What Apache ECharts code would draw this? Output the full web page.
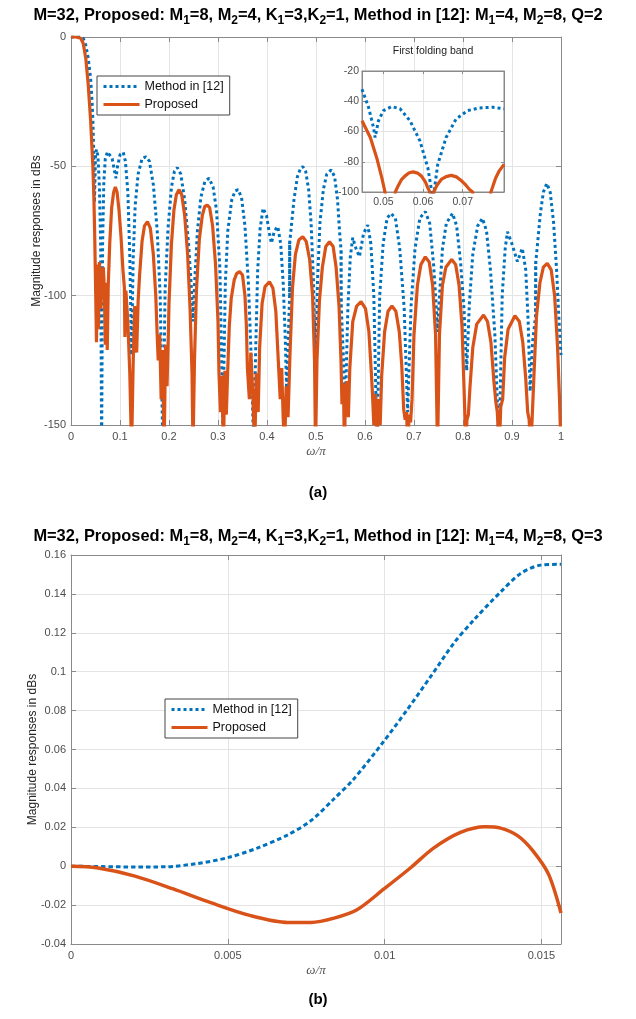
<!DOCTYPE html>
<html><head><meta charset="utf-8">
<script src="https://cdn.jsdelivr.net/npm/echarts@6/dist/echarts.min.js"></script>
<style>html,body{margin:0;padding:0;background:#fff}#c{width:636px;height:1019px}</style>
</head><body><div id="c"></div>
<script>
// ---------- Data ----------
// (a) full band, x = omega/pi, y = magnitude in dB (values below -150 are clipped)
const methodA = [
 [0,0],[0.01,0],[0.02,0],[0.025,-0.5],[0.03,-3],[0.035,-8],[0.04,-16],[0.043,-25],[0.0446,-32],[0.0463,-44],[0.0479,-64],[0.05,-46],[0.052,-43.5],[0.055,-46],[0.058,-58],[0.0605,-80],[0.0625,-160],[0.0645,-80],[0.067,-56],[0.07,-47],[0.0745,-44.4],[0.078,-44],
 [0.084,-47],[0.089,-52],[0.0917,-54.6],[0.095,-50],[0.1,-45.5],[0.1066,-44.6],[0.111,-48],[0.116,-60],[0.12,-85],[0.1236,-123],[0.127,-85],[0.131,-65],[0.137,-53],[0.145,-47],[0.1527,-46.3],[0.16,-48],[0.168,-57],[0.176,-75],[0.182,-100],[0.1875,-160],
 [0.192,-98],[0.198,-74],[0.205,-58],[0.211,-52],[0.217,-50.5],[0.224,-53],[0.232,-63],[0.24,-80],[0.246,-98],[0.249,-110],[0.252,-96],[0.258,-75],[0.265,-62],[0.273,-56],[0.2817,-54.6],[0.29,-58],[0.297,-67],[0.304,-90],[0.31,-150],
 [0.315,-95],[0.32,-75],[0.328,-63],[0.335,-59.5],[0.341,-59],[0.348,-62],[0.355,-73],[0.362,-95],[0.368,-125],[0.373,-160],[0.377,-120],[0.381,-90],[0.386,-74],[0.392,-66.2],[0.399,-69],[0.405,-76],[0.409,-79.7],[0.415,-75],[0.422,-73.3],[0.428,-80],[0.433,-95],[0.437,-115],[0.44,-136],
 [0.446,-101],[0.4462,-79],[0.4464,-101],[0.4466,-79],[0.455,-63],[0.462,-54],[0.468,-51],[0.473,-50.1],[0.479,-52],[0.485,-59],[0.49,-72],[0.495,-95],[0.499,-128],[0.503,-95],[0.508,-72],[0.515,-59],[0.522,-53],[0.531,-51.4],[0.538,-54],[0.544,-63],[0.548,-75],
 [0.551,-82],[0.5512,-104],[0.5514,-82],[0.5516,-104],[0.555,-120],[0.56,-142],[0.565,-105],[0.57,-85],[0.575,-77.6],[0.582,-82],[0.5886,-84.9],[0.597,-76],[0.6056,-72.7],[0.612,-80],[0.618,-100],[0.6246,-160],[0.63,-100],[0.637,-80],[0.645,-70],[0.653,-68.2],[0.662,-70],[0.671,-82],[0.68,-105],[0.687,-145],
 [0.694,-104],[0.702,-82],[0.712,-70],[0.723,-67.5],[0.732,-72],[0.74,-88],[0.745,-103],[0.748,-114],[0.752,-100],[0.758,-82],[0.766,-72],[0.7787,-68.2],[0.787,-73],[0.795,-87],[0.802,-105],[0.8075,-129],[0.813,-103],[0.82,-84],[0.83,-73],[0.8397,-70.1],[0.848,-75],[0.856,-90],[0.865,-115],[0.8737,-160],
 [0.88,-100],[0.886,-82],[0.8907,-75.3],[0.9,-80],[0.911,-86.8],[0.921,-81.7],[0.928,-90],[0.933,-110],[0.937,-137],[0.942,-118],[0.948,-108],[0.9482,-87],[0.9484,-108],[0.9486,-87],[0.958,-68],[0.964,-60],[0.971,-56.6],[0.978,-60],[0.985,-72],[0.991,-90],[0.996,-110],[1.0,-123]
];
const proposedA = [
 [0,0],[0.01,0],[0.02,-0.5],[0.025,-2.5],[0.03,-8],[0.035,-18],[0.04,-32],[0.0446,-50],[0.0467,-62],[0.0483,-76],[0.0496,-90],
 [0.052,-118],[0.054,-88],[0.056,-113],[0.058,-87],[0.061,-105],[0.063,-92],[0.066,-89],[0.068,-97],[0.07,-119],[0.072,-95],[0.074,-121],[0.076,-96],
 [0.079,-80],[0.083,-66],[0.087,-60],[0.0905,-58],[0.094,-60],[0.098,-67],[0.102,-77],[0.106,-90],[0.109,-97],[0.11,-116],[0.112,-98],[0.116,-110],[0.12,-130],[0.1236,-160],[0.127,-125],[0.13,-104],[0.134,-122],[0.137,-102],[0.14,-92],
 [0.145,-79],[0.15,-73],[0.156,-71.4],[0.162,-74],[0.168,-84],[0.173,-100],[0.176,-116],[0.178,-125],[0.181,-115],[0.184,-140],[0.187,-121],[0.19,-160],[0.193,-119],[0.196,-135],[0.199,-112],[0.2,-103],
 [0.205,-80],[0.21,-67],[0.215,-61],[0.2206,-59],[0.226,-61],[0.232,-69],[0.238,-84],[0.243,-105],[0.247,-130],[0.249,-160],[0.252,-125],[0.256,-98],[0.262,-78],[0.268,-69],[0.273,-65.5],[0.278,-65],[0.283,-66],[0.289,-73],[0.295,-88],
 [0.3,-110],[0.302,-130],[0.305,-145],[0.308,-131],[0.311,-160],[0.314,-129],[0.317,-146],[0.32,-128],[0.323,-112],[0.327,-101],[0.333,-94],[0.338,-91.5],[0.344,-90.7],[0.35,-92],[0.355,-100],[0.358,-112],[0.36,-128],[0.364,-140],[0.367,-122],[0.371,-138],[0.375,-160],
 [0.378,-130],[0.382,-145],[0.385,-120],[0.39,-103],[0.396,-96.5],[0.405,-94.6],[0.412,-97],[0.418,-106],[0.423,-125],[0.427,-140],[0.43,-128],[0.433,-147],[0.436,-160],[0.439,-135],[0.443,-147],[0.447,-122],[0.452,-97],[0.458,-84],[0.465,-78.5],[0.473,-77.2],
 [0.48,-79],[0.487,-86],[0.493,-100],[0.497,-125],[0.499,-160],[0.502,-125],[0.507,-102],[0.513,-89],[0.52,-81],[0.5275,-79.2],[0.535,-81],[0.541,-89],[0.547,-104],[0.551,-125],[0.553,-142],[0.556,-134],[0.558,-160],[0.56,-140],[0.563,-133],[0.566,-147],[0.569,-128],
 [0.575,-110],[0.583,-104],[0.592,-102.3],[0.601,-105],[0.608,-114],[0.613,-130],[0.615,-137],[0.618,-150],[0.621,-138],[0.6246,-160],[0.628,-140],[0.631,-150],[0.634,-131],[0.64,-114],[0.647,-106],[0.655,-104],[0.663,-106],[0.67,-114],[0.675,-127],
 [0.679,-144],[0.682,-148],[0.685,-145],[0.687,-160],[0.69,-146],[0.693,-149],[0.696,-140],[0.7,-115],[0.707,-96],[0.714,-88],[0.723,-85],[0.731,-87],[0.738,-96],[0.744,-115],[0.748,-160],[0.752,-115],[0.758,-96],[0.765,-89],[0.777,-86],[0.785,-88],[0.792,-96],
 [0.798,-112],[0.802,-135],[0.804,-147],[0.806,-160],[0.808,-148],[0.811,-146],[0.814,-136],[0.82,-120],[0.828,-111],[0.842,-107.5],[0.85,-110],[0.857,-118],[0.863,-133],[0.867,-141],[0.87,-145],[0.874,-160],[0.877,-143],[0.881,-140],[0.885,-124],[0.892,-113],
 [0.906,-107.8],[0.915,-110],[0.922,-118],[0.928,-132],[0.932,-145],[0.935,-148],[0.938,-160],[0.941,-148],[0.945,-130],[0.95,-108],[0.957,-95],[0.964,-89],[0.972,-87.5],[0.98,-90],[0.987,-100],[0.993,-120],[0.997,-140],[1.0,-160]
];
// (a) inset: first folding band
const methodInset = [
 [0.0446,-32],[0.04485,-32.9],[0.04625,-44],[0.0475,-57.3],[0.0479,-64],[0.04875,-52.9],[0.05,-46.2],[0.0521,-43.5],[0.0542,-45],[0.0567,-52.9],[0.0592,-66.2],[0.0612,-84],[0.0625,-105],
 [0.0637,-81.7],[0.0658,-64],[0.0683,-51.8],[0.0712,-46.2],[0.0742,-44.4],[0.0775,-44],[0.0804,-45]
];
const proposedInset = [
 [0.0446,-52.9],[0.0467,-64],[0.0483,-77.3],[0.0496,-90.7],[0.0504,-100],[0.0512,-125],[0.0522,-125],[0.053,-100],[0.0537,-96],[0.0545,-92],[0.0554,-89.5],[0.0565,-87.3],[0.0575,-86.7],[0.0586,-87.5],[0.0596,-89.5],[0.0606,-93.5],[0.0612,-97.3],[0.0617,-100],
 [0.0622,-115],[0.0627,-100],[0.0635,-95.5],[0.0646,-91.7],[0.0658,-89.8],[0.0671,-89],[0.0684,-90],[0.0696,-92.4],[0.0708,-95.5],[0.0717,-98.4],[0.0725,-100],[0.0735,-125],[0.076,-125],[0.0771,-100],[0.0783,-90.7],[0.0792,-86],[0.0804,-81.7]
];
// (b) passband detail
const methodB = [
 [0,0],[0.001,-0.0002],[0.00204,-0.0004],[0.00301,-0.0003],[0.004,0.0013],[0.005,0.0044],[0.00594,0.0093],[0.0069,0.016],[0.00765,0.0234],[0.00839,0.0347],[0.009,0.0445],
 [0.00996,0.0639],[0.01071,0.0802],[0.01146,0.0973],[0.0122,0.1145],[0.01284,0.1265],[0.0137,0.141],[0.01434,0.1505],[0.01498,0.1548],[0.015625,0.1552]
];
const proposedB = [
 [0,0],[0.00082,-0.0008],[0.00204,-0.0051],[0.00326,-0.0117],[0.00448,-0.0189],[0.0057,-0.0253],[0.00692,-0.0289],[0.00765,-0.0289],[0.00839,-0.0267],[0.00912,-0.0224],
 [0.00998,-0.0117],[0.01083,-0.0008],[0.01156,0.0093],[0.01242,0.0174],[0.01321,0.0203],[0.0137,0.0196],[0.01425,0.0156],[0.01473,0.0079],[0.01523,-0.0042],[0.015625,-0.0241]
];
const seriesNames = ['Method in [12]', 'Proposed'];
const insetTicks = [0.05, 0.06, 0.07];
const titleA = '{n|M=32, Proposed: M}{s|1}{n|=8, M}{s|2}{n|=4, K}{s|1}{n|=3,K}{s|2}{n|=1, Method in [12]: M}{s|1}{n|=4, M}{s|2}{n|=8, Q=2}';
const titleB = '{n|M=32, Proposed: M}{s|1}{n|=8, M}{s|2}{n|=4, K}{s|1}{n|=3,K}{s|2}{n|=1, Method in [12]: M}{s|1}{n|=4, M}{s|2}{n|=8, Q=3}';
const yName = 'Magnitude responses in dBs';
const xName = 'ω/π';

// ---------- Styling ----------
const BLUE = '#0072BD', ORANGE = '#D95319';
const AX = '#8a8a8a', GRIDC = '#e4e4e4', LBL = '#4d4d4d';
const FONT = 'Liberation Sans, Arial, sans-serif';
const titleRich = {
  n: {fontSize: 16.4, fontWeight: 'bold', fontFamily: FONT, color: '#000', lineHeight: 20},
  s: {fontSize: 12, fontWeight: 'bold', fontFamily: FONT, color: '#000', lineHeight: 12, padding: [11, 0, 0, 0]}
};

function xAx(o) {
  return Object.assign({
    type: 'value', position: 'bottom',
    axisLine: {show: true, onZero: false, lineStyle: {color: AX, width: 1}},
    axisTick: {show: true, inside: true, length: 5, lineStyle: {color: AX}},
    axisLabel: {show: true, color: LBL, fontSize: 11, fontFamily: FONT, margin: 6},
    splitLine: {show: true, lineStyle: {color: GRIDC, width: 1}}
  }, o);
}
function yAx(o) {
  return Object.assign({
    type: 'value', position: 'left',
    axisLine: {show: true, onZero: false, lineStyle: {color: AX, width: 1}},
    axisTick: {show: true, inside: true, length: 5, lineStyle: {color: AX}},
    axisLabel: {show: true, color: LBL, fontSize: 11, fontFamily: FONT, margin: 5},
    splitLine: {show: true, lineStyle: {color: GRIDC, width: 1}}
  }, o);
}
const noLbl = {show: false};
const noSplit = {show: false};
const xNameStyle = {fontFamily: 'Liberation Serif, serif', fontStyle: 'italic', fontSize: 13, color: '#555'};
const yNameStyle = {fontFamily: FONT, fontSize: 12, color: '#262626'};
const legendCommon = {
  orient: 'vertical', itemWidth: 36, itemHeight: 12, itemGap: 5, padding: [4, 6, 4, 5],
  backgroundColor: '#fff', borderColor: '#444', borderWidth: 1, selectedMode: false, z: 10,
  itemStyle: {opacity: 0, borderWidth: 0},
  lineStyle: {width: 3},
  textStyle: {fontSize: 12.5, color: '#111', fontFamily: FONT}
};

const chart = echarts.init(document.getElementById('c'), null, {renderer: 'canvas'});
chart.setOption({
  animation: false,
  backgroundColor: '#fff',
  title: [
    {text: titleA, left: 'center', top: 5, padding: 0, textStyle: {rich: titleRich}},
    {text: titleB, left: 'center', top: 526, padding: 0, textStyle: {rich: titleRich}},
    {text: '(a)', left: 'center', top: 485, padding: 0, textStyle: {fontSize: 15, fontWeight: 'bold', fontFamily: FONT, color: '#000'}},
    {text: '(b)', left: 'center', top: 992, padding: 0, textStyle: {fontSize: 15, fontWeight: 'bold', fontFamily: FONT, color: '#000'}}
  ],
  graphic: [
    {type: 'text', x: 433, y: 51, z: 20, style: {text: 'First folding band', fontSize: 10.5, fontFamily: FONT, fill: '#222', textAlign: 'center', textVerticalAlign: 'middle'}}
  ],
  legend: [
    Object.assign({data: seriesNames, left: 97, top: 76}, legendCommon),
    Object.assign({data: seriesNames, left: 165, top: 699}, legendCommon)
  ],
  grid: [
    {left: 71, top: 37, width: 490, height: 388, containLabel: false},
    {left: 362, top: 71, width: 142, height: 121, show: true, backgroundColor: '#fff', borderColor: AX, borderWidth: 1, z: 3},
    {left: 71, top: 555, width: 490, height: 389, containLabel: false}
  ],
  xAxis: [
    xAx({gridIndex: 0, min: 0, max: 1, interval: 0.1, name: xName, nameLocation: 'middle', nameGap: 20, nameMoveOverlap: false, nameTextStyle: xNameStyle}),
    xAx({gridIndex: 0, position: 'top', min: 0, max: 1, interval: 0.1, axisLabel: noLbl, splitLine: noSplit}),
    xAx({gridIndex: 1, min: 0.0446, max: 0.0804, z: 4,
         axisTick: {show: true, inside: true, length: 3, lineStyle: {color: AX}, customValues: insetTicks},
         axisLabel: {show: true, color: LBL, fontSize: 10.5, fontFamily: FONT, margin: 5, customValues: insetTicks}}),
    xAx({gridIndex: 1, position: 'top', min: 0.0446, max: 0.0804, z: 4, axisLabel: noLbl, splitLine: noSplit,
         axisTick: {show: true, inside: true, length: 3, lineStyle: {color: AX}, customValues: insetTicks}}),
    xAx({gridIndex: 2, min: 0, max: 0.015625, interval: 0.005, name: xName, nameLocation: 'middle', nameGap: 20, nameMoveOverlap: false, nameTextStyle: xNameStyle,
         axisLabel: {show: true, color: LBL, fontSize: 11, fontFamily: FONT, margin: 6, showMaxLabel: false}}),
    xAx({gridIndex: 2, position: 'top', min: 0, max: 0.015625, interval: 0.005, axisLabel: noLbl, splitLine: noSplit})
  ],
  yAxis: [
    yAx({gridIndex: 0, min: -150, max: 0, interval: 50, name: yName, nameLocation: 'middle', nameGap: 28, nameMoveOverlap: false, nameTextStyle: yNameStyle}),
    yAx({gridIndex: 0, position: 'right', min: -150, max: 0, interval: 50, axisLabel: noLbl, splitLine: noSplit}),
    yAx({gridIndex: 1, min: -100, max: -20, interval: 20, z: 4,
         axisTick: {show: true, inside: true, length: 3, lineStyle: {color: AX}},
         axisLabel: {show: true, color: LBL, fontSize: 10.5, fontFamily: FONT, margin: 3}}),
    yAx({gridIndex: 1, position: 'right', min: -100, max: -20, interval: 20, z: 4, axisLabel: noLbl, splitLine: noSplit,
         axisTick: {show: true, inside: true, length: 3, lineStyle: {color: AX}}}),
    yAx({gridIndex: 2, min: -0.04, max: 0.16, interval: 0.02, name: yName, nameLocation: 'middle', nameGap: 32, nameMoveOverlap: false, nameTextStyle: yNameStyle}),
    yAx({gridIndex: 2, position: 'right', min: -0.04, max: 0.16, interval: 0.02, axisLabel: noLbl, splitLine: noSplit})
  ],
  series: [
    {type: 'line', name: seriesNames[0], xAxisIndex: 0, yAxisIndex: 0, data: methodA, symbol: 'none', showSymbol: false, clip: true, z: 2,
     lineStyle: {color: BLUE, width: 3, type: [3, 3]}, itemStyle: {color: BLUE}},
    {type: 'line', name: seriesNames[1], xAxisIndex: 0, yAxisIndex: 0, data: proposedA, symbol: 'none', showSymbol: false, clip: true, z: 2,
     lineStyle: {color: ORANGE, width: 3.2}, itemStyle: {color: ORANGE}},
    {type: 'line', name: seriesNames[0], xAxisIndex: 2, yAxisIndex: 2, data: methodInset, symbol: 'none', showSymbol: false, clip: true, z: 5,
     lineStyle: {color: BLUE, width: 3, type: [3, 3]}, itemStyle: {color: BLUE}},
    {type: 'line', name: seriesNames[1], xAxisIndex: 2, yAxisIndex: 2, data: proposedInset, symbol: 'none', showSymbol: false, clip: true, z: 5,
     lineStyle: {color: ORANGE, width: 3.2}, itemStyle: {color: ORANGE}},
    {type: 'line', name: seriesNames[0], xAxisIndex: 4, yAxisIndex: 4, data: methodB, symbol: 'none', showSymbol: false, clip: true, smooth: 0.3, z: 2,
     lineStyle: {color: BLUE, width: 3, type: [4.5, 3]}, itemStyle: {color: BLUE}},
    {type: 'line', name: seriesNames[1], xAxisIndex: 4, yAxisIndex: 4, data: proposedB, symbol: 'none', showSymbol: false, clip: true, smooth: 0.3, z: 2,
     lineStyle: {color: ORANGE, width: 3.5}, itemStyle: {color: ORANGE}}
  ]
});
</script></body></html>
